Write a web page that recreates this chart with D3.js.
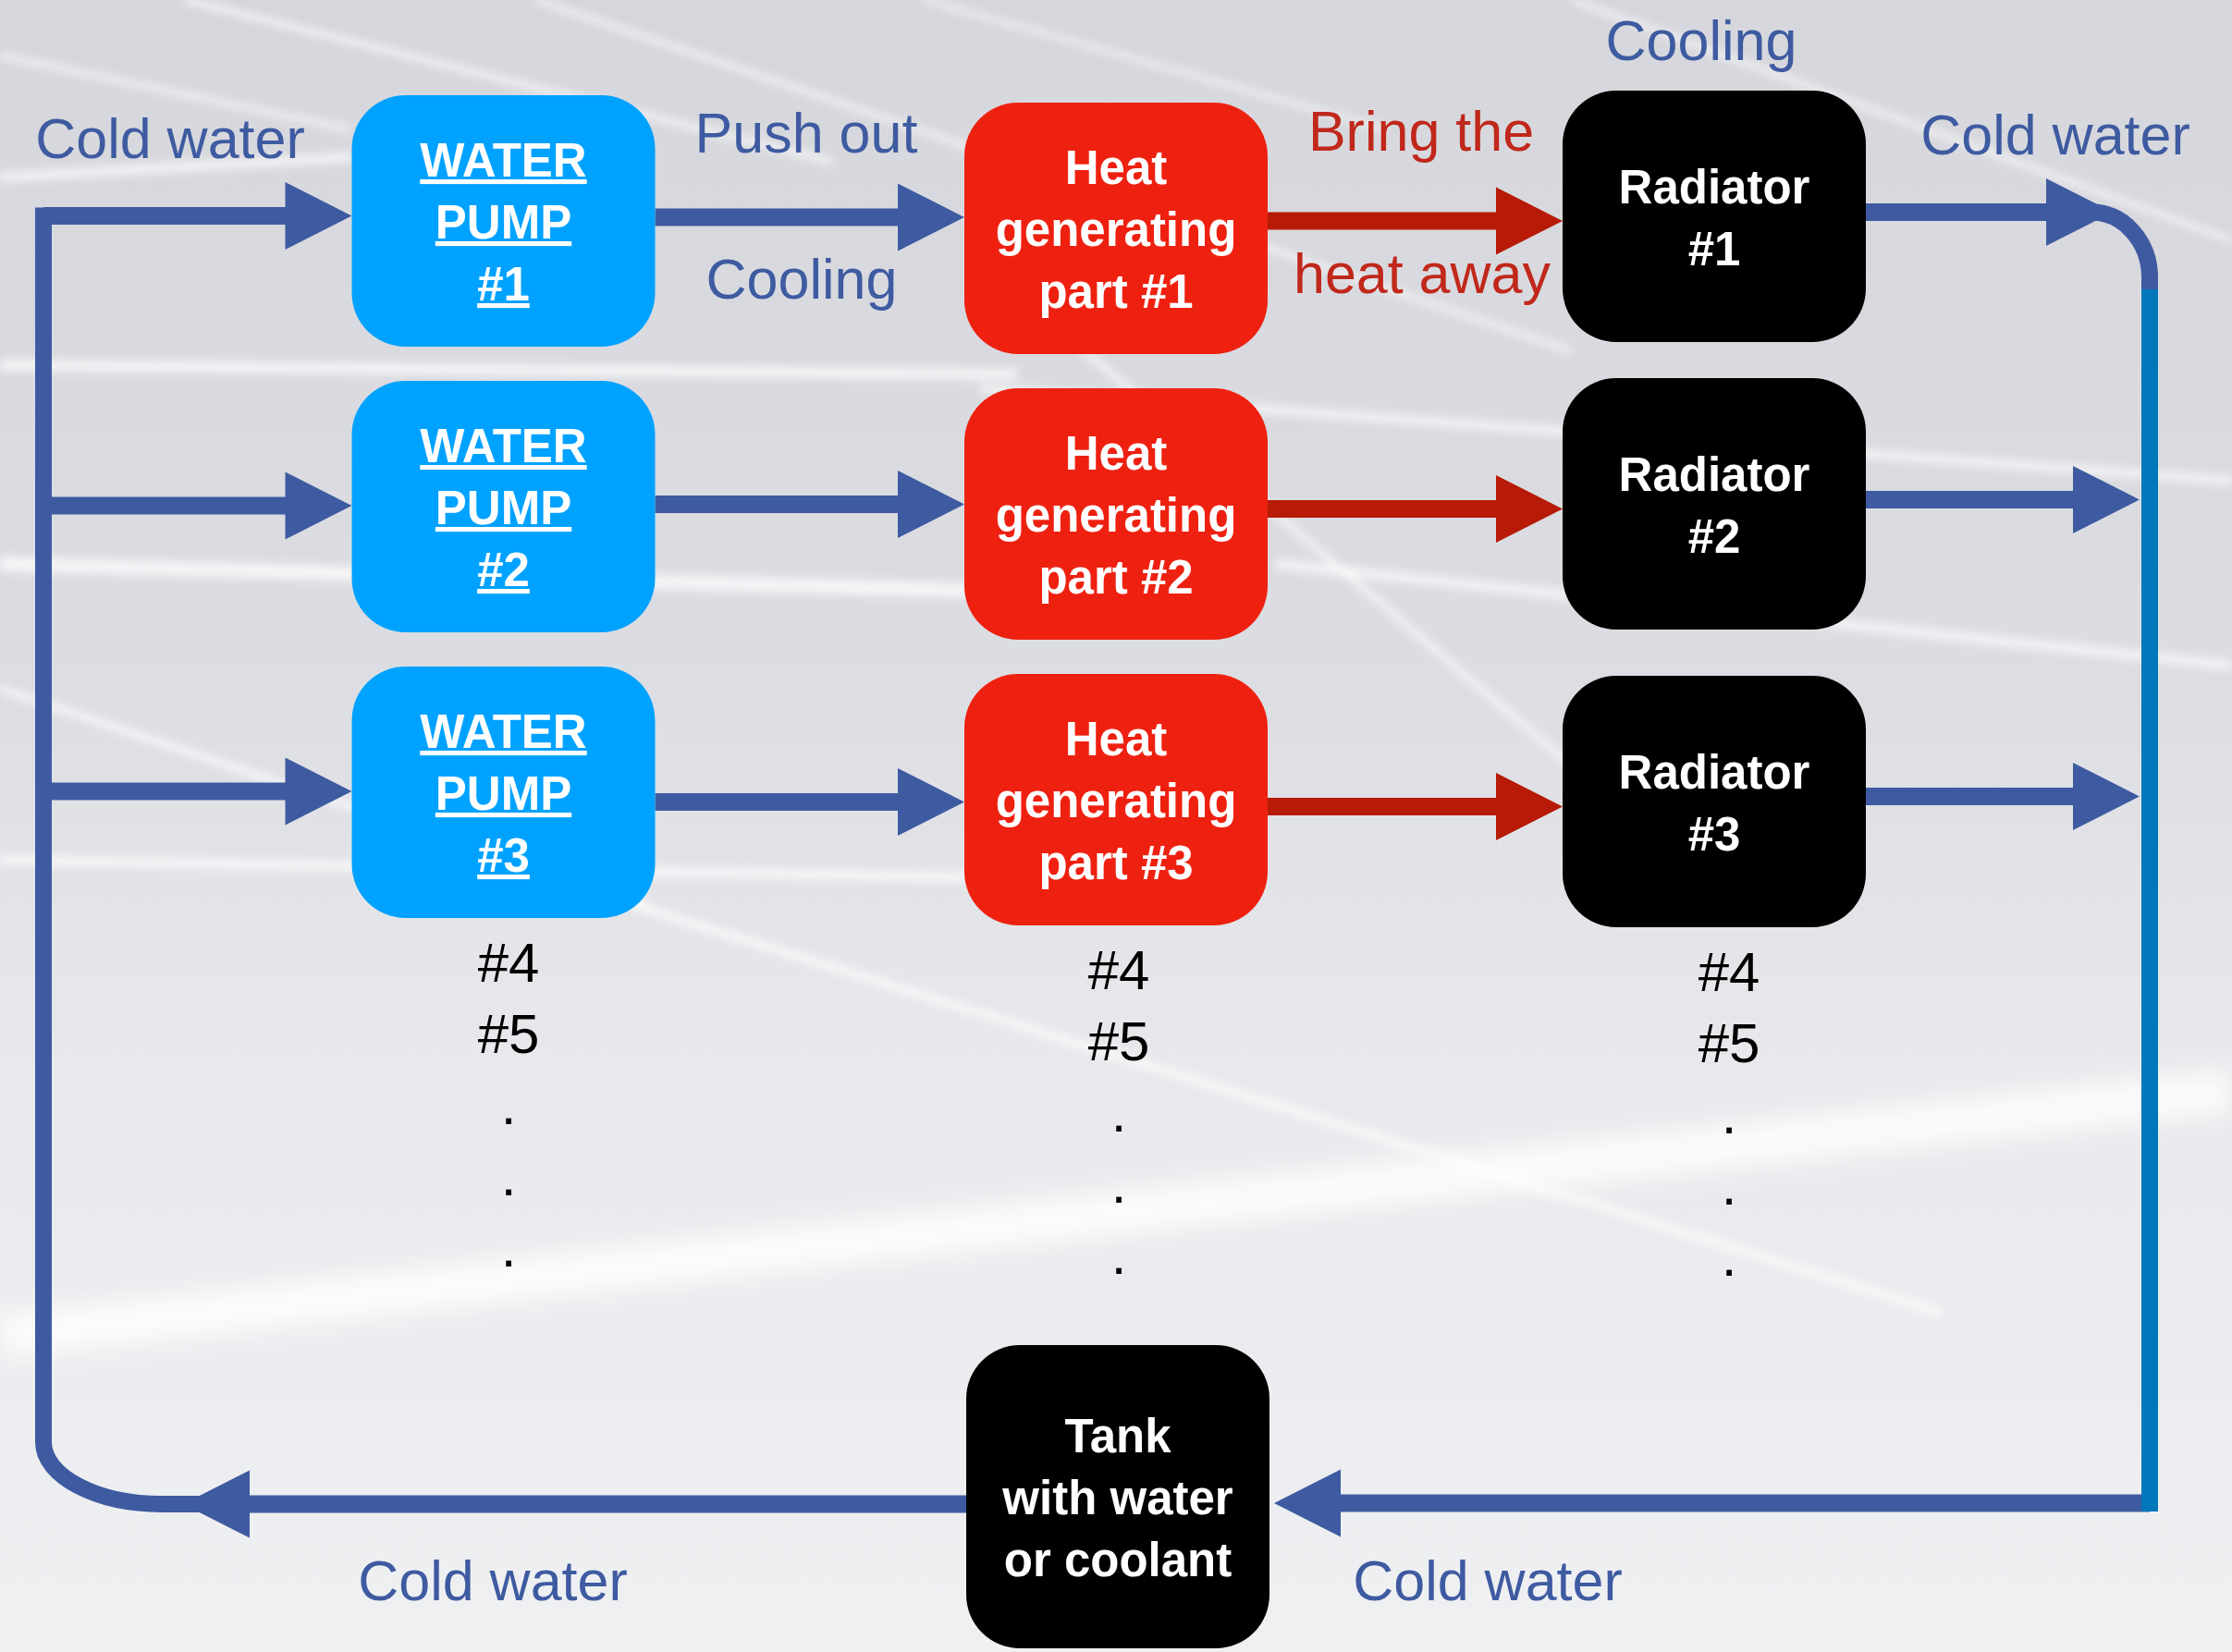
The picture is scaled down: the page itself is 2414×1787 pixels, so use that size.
<!DOCTYPE html>
<html>
<head>
<meta charset="utf-8">
<script src="https://cdn.jsdelivr.net/npm/d3@7"></script>
<style>
  html, body { margin: 0; padding: 0; background: #e4e5e9; }
  svg { display: block; }
  text { font-family: "Liberation Sans", Arial, Helvetica, sans-serif; }
</style>
</head>
<body>
<script>
// Diagram content
const stages = ["pump", "heat", "radiator"];
const units = ["#1", "#2", "#3"];
const pumpText = ["WATER", "PUMP"];
const heatText = ["Heat", "generating", "part"];
const radiatorText = ["Radiator"];
const tankText = ["Tank", "with water", "or coolant"];
const moreUnits = ["#4", "#5", ".", ".", "."];
const flowLabels = ["Cold water", "Push out", "Cooling", "Bring the", "heat away", "Cooling", "Cold water", "Cold water", "Cold water"];

// Canvas
const W = 2414, H = 1787;
const svg = d3.select("body").append("svg").attr("width", W).attr("height", H);

// Colours
const blue = "#3e5ba1", darkRed = "#b71a06", lightBlue = "#0077bb";
const fills = { pump: "#00a2ff", heat: "#ee2111", radiator: "#000000" };

// Layout scales
const boxW = 328, boxH = 272, boxR = 58, lineH = 67;
const colX = d3.scaleOrdinal().domain(stages).range([544.5, 1207, 1854]);
const boxTop = {
  pump: d3.scaleOrdinal().domain(units).range([103, 412, 721]),
  heat: d3.scaleOrdinal().domain(units).range([111, 420, 729]),
  radiator: d3.scaleOrdinal().domain(units).range([98, 409, 731])
};
const linkY = {
  feed: d3.scaleOrdinal().domain(units).range([233.5, 547, 856]),
  push: d3.scaleOrdinal().domain(units).range([235, 545.5, 867.5]),
  heat: d3.scaleOrdinal().domain(units).range([239, 550.5, 872.5]),
  out: d3.scaleOrdinal().domain(units).range([229.5, 540.5, 861.5])
};
const headL = 72, headH = 36.5, shaft = 19;

// ---- background ----
const defs = svg.append("defs");
const grad = defs.append("linearGradient").attr("id", "bg").attr("x1", 0).attr("y1", 0).attr("x2", 0).attr("y2", 1);
[[0, "#d6d7dc"], [0.4, "#dcdde2"], [0.65, "#e8e9ec"], [1, "#eff0f2"]].forEach(s =>
  grad.append("stop").attr("offset", s[0]).attr("stop-color", s[1]));
defs.append("filter").attr("id", "soft").attr("x", "-10%").attr("y", "-50%").attr("width", "120%").attr("height", "200%")
  .append("feGaussianBlur").attr("stdDeviation", 5);
defs.append("filter").attr("id", "softer").attr("x", "-10%").attr("y", "-50%").attr("width", "120%").attr("height", "200%")
  .append("feGaussianBlur").attr("stdDeviation", 14);

svg.append("rect").attr("width", W).attr("height", H).attr("fill", "url(#bg)");

// white streaks of the photo backdrop
const streaks = [
  [0, 60, 380, 140, 6], [200, 0, 900, 175, 7], [580, 0, 1700, 380, 6], [0, 192, 380, 170, 10],
  [0, 395, 1100, 405, 12], [1060, 420, 2414, 520, 9], [0, 610, 1100, 640, 16], [1380, 610, 2414, 720, 10],
  [0, 745, 700, 980, 8], [1080, 300, 1760, 880, 7], [560, 940, 2100, 1420, 9], [1700, 0, 2414, 260, 6],
  [0, 930, 1100, 950, 10], [1000, 0, 1500, 140, 5]
];
svg.append("g").attr("filter", "url(#soft)").selectAll("line").data(streaks).join("line")
  .attr("x1", d => d[0]).attr("y1", d => d[1]).attr("x2", d => d[2]).attr("y2", d => d[3])
  .attr("stroke", "#ffffff").attr("stroke-width", d => d[4]).attr("stroke-opacity", 0.7);
svg.append("line").attr("filter", "url(#softer)")
  .attr("x1", 0).attr("y1", 1445).attr("x2", W).attr("y2", 1180)
  .attr("stroke", "#ffffff").attr("stroke-width", 46).attr("stroke-opacity", 0.85);

// ---- arrows ----
const line = d3.line();
function arrowPoly(x1, x2, y, len = headL) {
  const d = x2 > x1 ? 1 : -1, b = x2 - d * len;
  return line([[x1, y - shaft / 2], [b, y - shaft / 2], [b, y - headH], [x2, y], [b, y + headH],
    [b, y + shaft / 2], [x1, y + shaft / 2]]) + "Z";
}
const arrows = svg.append("g");
const pumpL = colX("pump") - boxW / 2, pumpR = colX("pump") + boxW / 2;
const heatL = colX("heat") - boxW / 2, heatR = colX("heat") + boxW / 2;
const radL = colX("radiator") - boxW / 2, radR = colX("radiator") + boxW / 2;
const leftX = 47, rightX = 2325;

units.forEach((u, i) => {
  arrows.append("path").attr("d", arrowPoly(leftX, pumpL, linkY.feed(u))).attr("fill", blue);
  arrows.append("path").attr("d", arrowPoly(pumpR, heatL, linkY.push(u))).attr("fill", blue);
  arrows.append("path").attr("d", arrowPoly(heatR, radL, linkY.heat(u))).attr("fill", darkRed);
  arrows.append("path").attr("d", arrowPoly(radR, i === 0 ? 2285 : rightX - 11, linkY.out(u))).attr("fill", blue);
});

// return pipe on the right
const yTop = linkY.out("#1"), yBot = 1626;
const rp = d3.path();
rp.moveTo(2205, yTop); rp.lineTo(2262, yTop);
rp.bezierCurveTo(2297, yTop, rightX, 262, rightX, 300); rp.lineTo(rightX, 316);
arrows.append("path").attr("d", rp.toString()).attr("fill", "none").attr("stroke", blue).attr("stroke-width", 18);
arrows.append("path").attr("d", arrowPoly(rightX, 1378, yBot)).attr("fill", blue);
arrows.append("line").attr("x1", rightX).attr("x2", rightX).attr("y1", 313).attr("y2", 1635)
  .attr("stroke", lightBlue).attr("stroke-width", 18);

// return pipe on the left
const tankX = 1045, tankTop = 1455, tankSize = 328, yLeft = 1627;
arrows.append("path").attr("d", arrowPoly(tankX, 198, yLeft)).attr("fill", blue);
const lp = d3.path();
lp.moveTo(275, yLeft); lp.lineTo(175, yLeft);
lp.bezierCurveTo(105, yLeft, leftX, 1597, leftX, 1560);
lp.lineTo(leftX, linkY.feed("#1")); lp.lineTo(310, linkY.feed("#1"));
arrows.append("path").attr("d", lp.toString()).attr("fill", "none").attr("stroke", blue)
  .attr("stroke-width", 18).attr("stroke-linejoin", "miter");

// ---- boxes ----
function boxLines(stage, u) {
  if (stage === "pump") return [...pumpText, u];
  if (stage === "heat") return [heatText[0], heatText[1], heatText[2] + " " + u];
  return [...radiatorText, u];
}
function drawBox(x, y, w, h, fill, lines, underline) {
  const g = svg.append("g");
  g.append("rect").attr("x", x).attr("y", y).attr("width", w).attr("height", h)
    .attr("rx", boxR).attr("ry", boxR).attr("fill", fill);
  const n = lines.length;
  g.selectAll("text").data(lines).join("text")
    .attr("x", x + w / 2)
    .attr("y", (d, i) => y + h / 2 + 19 + (i - (n - 1) / 2) * lineH)
    .attr("text-anchor", "middle")
    .attr("fill", "#ffffff")
    .attr("font-weight", "bold")
    .attr("font-size", 51)
    .style("text-decoration", underline ? "underline" : "none")
    .text(d => d);
}
stages.forEach(s => units.forEach(u =>
  drawBox(colX(s) - boxW / 2, boxTop[s](u), boxW, boxH, fills[s], boxLines(s, u), s === "pump")));
drawBox(tankX, tankTop, tankSize, tankSize, "#000000", tankText, false);

// ---- "#4, #5, ..." continuation ----
const moreX = d3.scaleOrdinal().domain(stages).range([550, 1210, 1870]);
stages.forEach(s => {
  const start = boxTop[s]("#3") + boxH + 69;
  svg.append("g").selectAll("text").data(moreUnits).join("text")
    .attr("x", moreX(s))
    .attr("y", (d, i) => start + i * 77)
    .attr("text-anchor", "middle")
    .attr("font-size", 60)
    .attr("fill", "#000000")
    .text(d => d);
});

// ---- flow labels ----
const labelSpots = [
  [184, 171, blue], [872, 165, blue], [867, 323, blue], [1537, 163, "#c0281b"], [1538, 317, "#c0281b"],
  [1840, 65, blue], [2223, 167, blue], [533, 1731, blue], [1609, 1731, blue]
];
svg.append("g").selectAll("text").data(flowLabels).join("text")
  .attr("x", (d, i) => labelSpots[i][0])
  .attr("y", (d, i) => labelSpots[i][1])
  .attr("fill", (d, i) => labelSpots[i][2])
  .attr("text-anchor", "middle")
  .attr("font-size", 61)
  .text(d => d);
</script>
</body>
</html>
